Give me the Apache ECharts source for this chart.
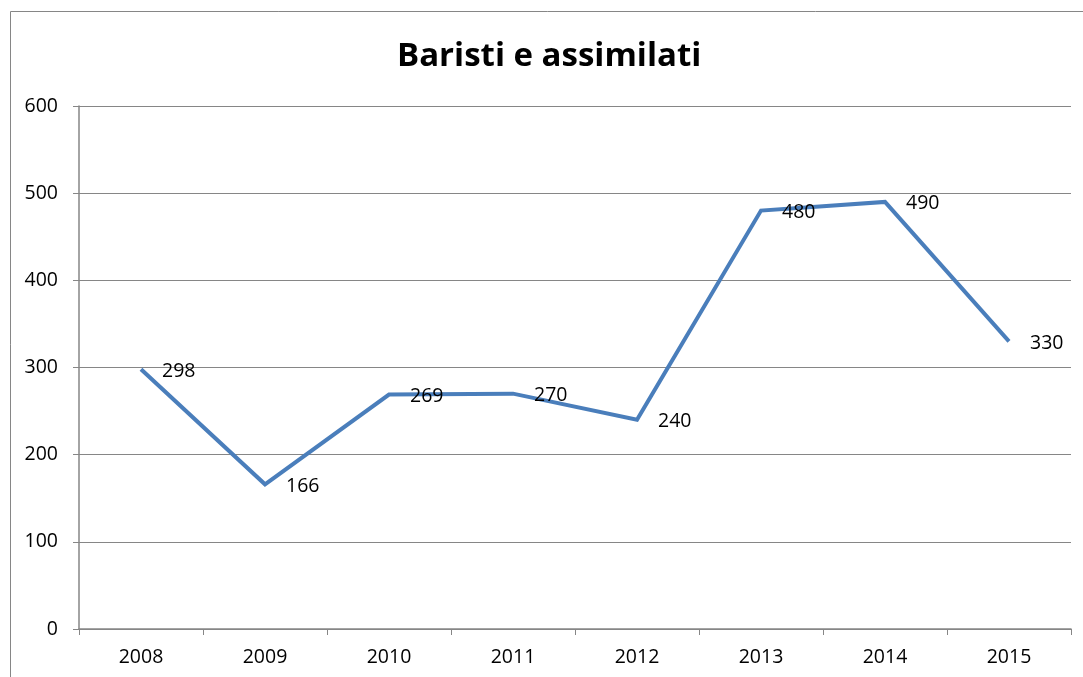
<!DOCTYPE html>
<html><head><meta charset="utf-8">
<script src="https://cdn.jsdelivr.net/npm/echarts@6/dist/echarts.min.js"></script>
<style>html,body{margin:0;padding:0;background:#fff}#c{width:1083px;height:677px}</style>
</head><body><div id="c"></div>
<script>
var categories = ['2008','2009','2010','2011','2012','2013','2014','2015'];
var values = [298,166,269,270,240,480,490,330];
var title = 'Baristi e assimilati';
var yTicks = {min:0, max:600, interval:100};

var chart = echarts.init(document.getElementById('c'));
var font = '"Open Sans", "Noto Sans", sans-serif';
chart.setOption({
  animation:false,
  backgroundColor:'#fff',
  graphic:[{type:'rect', shape:{x:10.5,y:11.5,width:1200,height:800}, style:{fill:'none', stroke:'#868686', lineWidth:1}, silent:true}],
  title:{text:title, left:392, top:35, textStyle:{fontFamily:font, fontWeight:'bold', fontSize:33, color:'#000'}},
  grid:{left:79, right:12, top:106, bottom:48},
  xAxis:{type:'category', data:categories, boundaryGap:true,
    axisLine:{lineStyle:{color:'#868686', width:1.5}},
    axisTick:{show:true, length:6, inside:false, lineStyle:{color:'#868686'}},
    axisLabel:{color:'#000', fontFamily:font, fontSize:19.5, margin:18}},
  yAxis:{type:'value', min:yTicks.min, max:yTicks.max, interval:yTicks.interval,
    axisLine:{show:true, lineStyle:{color:'#868686', width:1.5}},
    axisTick:{show:true, length:6, lineStyle:{color:'#868686'}},
    splitLine:{lineStyle:{color:'#868686', width:1}},
    axisLabel:{color:'#000', fontFamily:font, fontSize:19.5, margin:21}},
  series:[{type:'line', data:values, symbol:'circle', symbolSize:0, showSymbol:true,
    itemStyle:{color:'#4A7EBB'},
    lineStyle:{color:'#4A7EBB', width:4, join:'miter'},
    label:{show:true, position:'right', distance:21, color:'#000', fontFamily:font, fontSize:19.5, offset:[0,2]}}]
});
</script></body></html>
